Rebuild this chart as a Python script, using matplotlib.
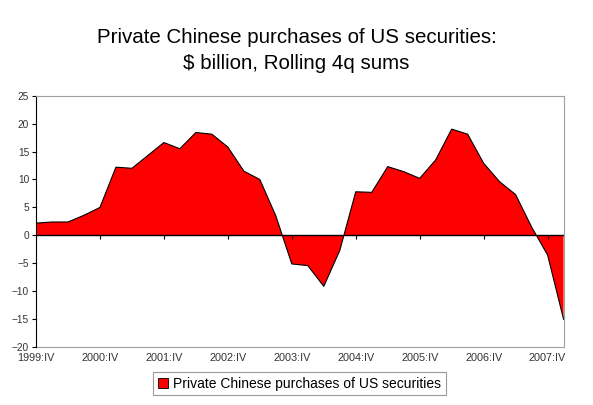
import numpy as np
import matplotlib.pyplot as plt
from matplotlib.patches import Patch

plt.rcParams['font.family'] = ['Liberation Sans', 'DejaVu Sans']

# quarterly rolling 4q sums, 1999:IV .. 2008:I
values = [2.2, 2.4, 2.4, 3.6, 5.0, 12.2, 12.0, 14.3, 16.6, 15.5, 18.4, 18.1,
          15.8, 11.5, 10.0, 3.5, -5.1, -5.4, -9.1, -2.7, 7.8, 7.7, 12.3, 11.4,
          10.2, 13.5, 19.0, 18.1, 12.9, 9.6, 7.3, 1.5, -3.5, -15.0]
tick_labels = ['1999:IV', '2000:IV', '2001:IV', '2002:IV', '2003:IV',
               '2004:IV', '2005:IV', '2006:IV', '2007:IV']
series_name = 'Private Chinese purchases of US securities'
title_lines = ['Private Chinese purchases of US securities:', '$ billion, Rolling 4q sums']

x = np.arange(len(values))
vals = np.array(values)

fig = plt.figure(figsize=(5.93, 4.05), dpi=100)
ax = fig.add_axes([0.0607, 0.1425, 0.8897, 0.6215])

ax.fill_between(x, vals, 0, facecolor='#ff0000', linewidth=0)
ax.plot(x, vals, color='black', linewidth=0.8)
ax.axhline(0, color='black', linewidth=1)

ax.set_xlim(0, len(values) - 1)
ax.set_ylim(-20, 25)
ax.set_yticks(range(-20, 26, 5))
ax.tick_params(axis='y', labelsize=7.3, length=3, color='black', labelcolor='#333333', pad=2)

# category tick marks sit on the zero line
ax.spines['bottom'].set_position(('data', 0))
ax.spines['bottom'].set_visible(False)
ax.set_xticks(x[::4])
ax.tick_params(axis='x', labelbottom=False, length=3, color='black')

# labels along the bottom of the plot area
sec = ax.secondary_xaxis(0.0)
sec.set_xticks(x[::4], tick_labels[:len(x[::4])])
sec.tick_params(length=0, labelsize=7.8, labelcolor='#333333', pad=4)
sec.spines['bottom'].set_color('#a0a0a0')

ax.spines['left'].set_color('black')
ax.spines['top'].set_color('#a0a0a0')
ax.spines['right'].set_color('#a0a0a0')

fig.text(0.5, 0.895, title_lines[0], ha='center', va='baseline', fontsize=14.8)
fig.text(0.5, 0.830, title_lines[1], ha='center', va='baseline', fontsize=14.8)

leg = fig.legend(handles=[Patch(facecolor='#ff0000', edgecolor='black', linewidth=0.6, label=series_name)],
                 loc='center', bbox_to_anchor=(0.505, 0.053), fontsize=10, frameon=True,
                 fancybox=False, handlelength=0.7, handleheight=0.7, handletextpad=0.4,
                 borderpad=0.35)
leg.get_frame().set_edgecolor('#808080')
leg.get_frame().set_linewidth(0.8)

fig.savefig('out.png', dpi=100)
